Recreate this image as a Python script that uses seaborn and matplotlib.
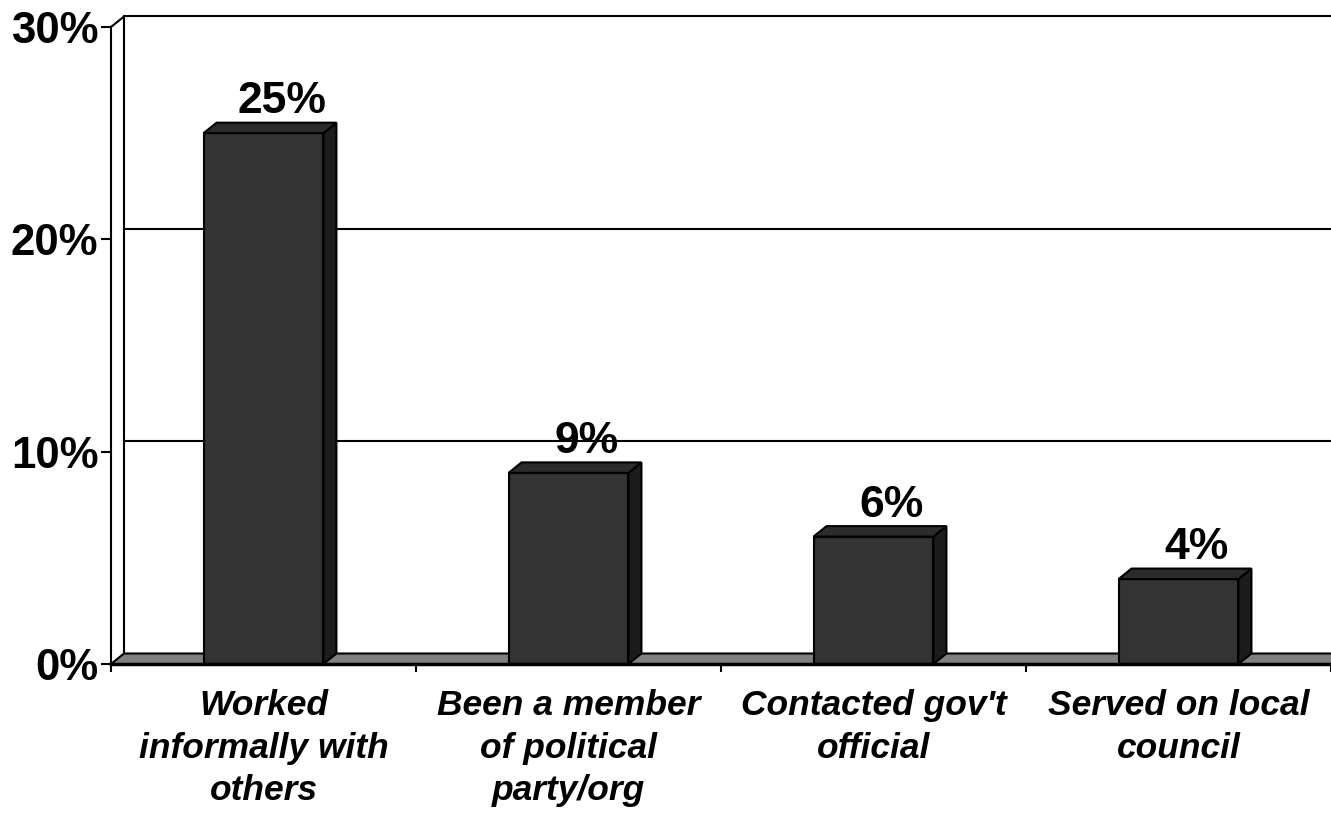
import matplotlib
matplotlib.use("Agg")
import matplotlib.pyplot as plt
from matplotlib.patches import Polygon
import seaborn as sns
import pandas as pd

categories = ["Worked\ninformally with\nothers", "Been a member\nof political\nparty/org",
              "Contacted gov't\nofficial", "Served on local\ncouncil"]
values = [25, 9, 6, 4]
value_labels = ["25%", "9%", "6%", "4%"]
yticks = [0, 10, 20, 30]
ytick_labels = ["0%", "10%", "20%", "30%"]

sns.set_style("white")
plt.rcParams["font.family"] = ["Liberation Sans", "DejaVu Sans"]
for k in ["text.color", "axes.labelcolor", "xtick.color", "ytick.color", "axes.edgecolor"]:
    plt.rcParams[k] = "black"

W, H = 1331, 814
fig = plt.figure(figsize=(W / 100, H / 100), dpi=100)
left_px, bottom_px, top_px = 111, 664, 27
ax = fig.add_axes([left_px / W, (H - bottom_px) / H, (W - left_px) / W, (bottom_px - top_px) / H])

df = pd.DataFrame({"cat": categories, "val": values})
sns.barplot(data=df, x="cat", y="val", color="#333333", saturation=1, width=0.393,
            edgecolor="black", linewidth=1.5, ax=ax, zorder=3)
ax.set_xlim(-0.5, 3.5)
ax.set_ylim(0, 30)

# depth offsets in data units
dxp, dyp = 13, 10.5
dx = dxp * 4 / ax.bbox.width
dy = dyp * 30 / ax.bbox.height

# back wall gridlines
x_back0 = -0.5 + dx
for v in yticks[1:]:
    ax.plot([x_back0, 3.5 + 0.1], [v + dy, v + dy], color="black", lw=1.5, zorder=1, clip_on=False)
ax.plot([x_back0, x_back0], [dy, 30 + dy], color="black", lw=1.5, zorder=1, clip_on=False)
ax.plot([-0.5, x_back0], [30, 30 + dy], color="black", lw=1.5, zorder=1, clip_on=False)

# floor
floor = Polygon([(-0.5, 0), (x_back0, dy), (3.6, dy), (3.6, 0)], closed=True,
                facecolor="#808080", edgecolor="black", lw=1.5, zorder=2, clip_on=False)
ax.add_patch(floor)

# 3D faces of bars
for p, lab in zip(ax.patches[:len(values)], value_labels):
    x0 = p.get_x()
    x1 = x0 + p.get_width()
    h = p.get_height()
    top = Polygon([(x0, h), (x1, h), (x1 + dx, h + dy), (x0 + dx, h + dy)], closed=True,
                  facecolor="#2b2b2b", edgecolor="black", lw=1.5, zorder=3, clip_on=False)
    side = Polygon([(x1, 0), (x1 + dx, dy), (x1 + dx, h + dy), (x1, h)], closed=True,
                   facecolor="#1c1c1c", edgecolor="black", lw=1.5, zorder=3, clip_on=False)
    ax.add_patch(side)
    ax.add_patch(top)
    ax.text((x0 + x1) / 2 + 18 * 4 / ax.bbox.width, h + 20 * 30 / ax.bbox.height, lab,
            ha="center", va="baseline", fontsize=32, fontweight="bold", color="black", zorder=5)

# spines
for s in ["top", "right"]:
    ax.spines[s].set_visible(False)
ax.spines["left"].set_linewidth(1.5)
ax.spines["bottom"].set_linewidth(2.5)
ax.spines["left"].set_zorder(4)
ax.spines["bottom"].set_zorder(4)

ax.set_yticks(yticks)
ax.set_yticklabels(ytick_labels, fontsize=31.5, fontweight="bold")
ax.tick_params(axis="y", direction="out", length=7.5, width=1.5, pad=1.5, left=True, colors="black")
ax.set_xticks([-0.5, 0.5, 1.5, 2.5, 3.5], minor=True)
ax.tick_params(axis="x", which="minor", direction="out", length=6, width=1.5, bottom=True, colors="black")
ax.tick_params(axis="x", which="major", length=0, pad=18, colors="black")
ax.set_xticks(range(len(categories)))
ax.set_xticklabels(categories, fontsize=25.5, fontweight="bold", fontstyle="italic", linespacing=1.37)
ax.set_xlabel("")
ax.set_ylabel("")
ax.grid(False)
ax.set_facecolor("none")

fig.savefig("out.png", dpi=100)
